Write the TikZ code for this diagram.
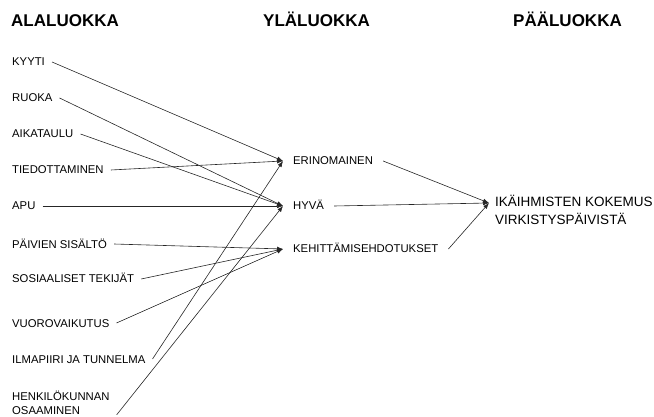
\documentclass[tikz,border=0pt]{standalone}
\usepackage{fontspec}
\setmainfont{Liberation Sans}
\usetikzlibrary{arrows.meta}

\begin{document}
\begin{tikzpicture}[x=1pt, y=-1pt,
    header/.style={anchor=base west, inner sep=0pt, font=\fontsize{17}{20}\selectfont\bfseries},
    sub/.style={anchor=west, inner xsep=7pt, inner ysep=0pt, text height=8pt, text depth=0pt, font=\fontsize{11.3}{13.5}\selectfont},
    mid/.style={anchor=west, inner xsep=10pt, inner ysep=0pt, text height=8pt, text depth=0pt, font=\fontsize{11.3}{13.5}\selectfont},
    main/.style={anchor=west, align=left, inner xsep=6pt, inner ysep=0pt, font=\fontsize{13.5}{18}\selectfont},
    arrow/.style={-{Latex[length=6pt,width=4.5pt]}, line width=0.6pt, draw=black!85}
]
    \useasboundingbox (0,0) rectangle (654,417);

    % Column headers
    \node[header] (ala_head) at (11,27) {ALALUOKKA};
    \node[header] (yla_head) at (263,27) {YLÄLUOKKA};
    \node[header] (paa_head) at (513,27) {PÄÄLUOKKA};

    % Subcategories
    \node[sub] (kyyti) at (5,62) {KYYTI};
    \node[sub] (ruoka) at (5,98) {RUOKA};
    \node[sub] (aikataulu) at (5,134) {AIKATAULU};
    \node[sub] (tiedottaminen) at (5,170) {TIEDOTTAMINEN};
    \node[sub] (apu) at (5,206) {APU};
    \node[sub] (paivien_sisalto) at (5,244) {PÄIVIEN SISÄLTÖ};
    \node[sub] (sosiaaliset) at (5,279) {SOSIAALISET TEKIJÄT};
    \node[sub] (vuorovaikutus) at (5,323) {VUOROVAIKUTUS};
    \node[sub] (ilmapiiri) at (5,359) {ILMAPIIRI JA TUNNELMA};
    \node[sub, align=left, text height=, text depth=] (henkilokunta) at (5,403) {HENKILÖKUNNAN\\OSAAMINEN};

    % Upper categories
    \node[mid] (erinomainen) at (283,161) {ERINOMAINEN};
    \node[mid] (hyva) at (283,206) {HYVÄ};
    \node[mid] (kehittamis) at (283,249) {KEHITTÄMISEHDOTUKSET};

    % Main category
    \node[main] (kokemus) at (489,210) {IKÄIHMISTEN KOKEMUS\\VIRKISTYSPÄIVISTÄ};
    \coordinate (kokemus_in) at ([yshift=7pt]kokemus.west);

    % Connections
    \draw[arrow] (kyyti.east) -- (erinomainen.west);
    \draw[arrow] (ruoka.east) -- (hyva.west);
    \draw[arrow] (aikataulu.east) -- (hyva.west);
    \draw[arrow] (tiedottaminen.east) -- (erinomainen.west);
    \draw[arrow] (apu.east) -- (hyva.west);
    \draw[arrow] (paivien_sisalto.east) -- (kehittamis.west);
    \draw[arrow] (sosiaaliset.east) -- (kehittamis.west);
    \draw[arrow] (vuorovaikutus.east) -- (kehittamis.west);
    \draw[arrow] (ilmapiiri.east) -- (erinomainen.west);
    \draw[arrow] (henkilokunta.south east) -- (hyva.west);
    \draw[arrow] (erinomainen.east) -- (kokemus_in);
    \draw[arrow] (hyva.east) -- (kokemus_in);
    \draw[arrow] (kehittamis.east) -- (kokemus_in);
\end{tikzpicture}
\end{document}
